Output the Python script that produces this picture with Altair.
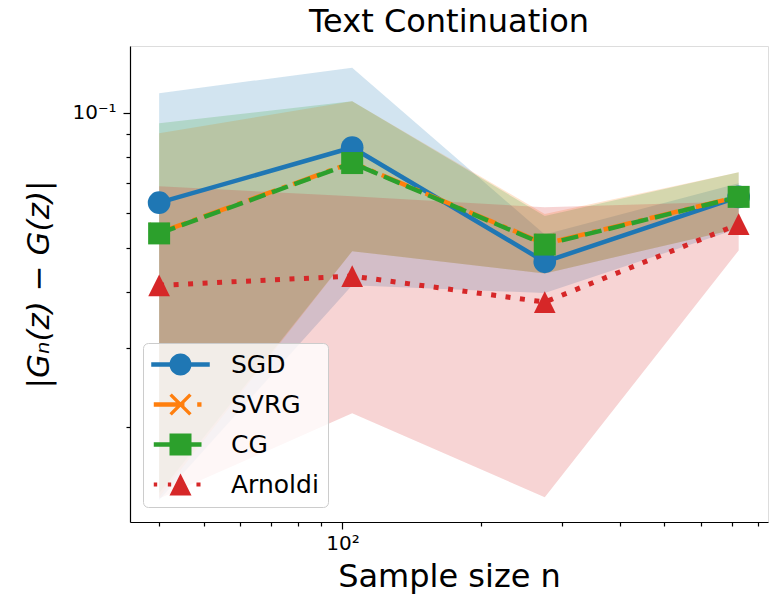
import altair as alt
import pandas as pd

# Sample sizes (log-spaced) and the four estimators
sizes = [40, 105, 275, 725]
methods = ["SGD", "SVRG", "CG", "Arnoldi"]
colors = ["#1f77b4", "#ff7f0e", "#2ca02c", "#d62728"]

# Mean error and shaded band (lower / upper) per method
sgd_mean = [0.0632, 0.0838, 0.0467, 0.0651]
sgd_lo = [0.0138, 0.0414, 0.0398, 0.0554]
sgd_hi = [0.1107, 0.1261, 0.0537, 0.0698]

svrg_mean = [0.0542, 0.0776, 0.0512, 0.0652]
svrg_lo = [0.0140, 0.0493, 0.0440, 0.0554]
svrg_hi = [0.0901, 0.1062, 0.0596, 0.0738]

cg_mean = [0.0540, 0.0774, 0.0510, 0.0651]
cg_lo = [0.0143, 0.0493, 0.0440, 0.0554]
cg_hi = [0.0949, 0.1062, 0.0590, 0.0738]

arnoldi_mean = [0.0414, 0.0434, 0.0380, 0.0566]
arnoldi_lo = [0.0139, 0.0215, 0.0140, 0.0495]
arnoldi_hi = [0.0687, 0.0653, 0.0617, 0.0636]

series = {
    "SGD": (sgd_mean, sgd_lo, sgd_hi),
    "SVRG": (svrg_mean, svrg_lo, svrg_hi),
    "CG": (cg_mean, cg_lo, cg_hi),
    "Arnoldi": (arnoldi_mean, arnoldi_lo, arnoldi_hi),
}

rows = []
for m in methods:
    mean, lo, hi = series[m]
    for n, a, b, c in zip(sizes, mean, lo, hi):
        rows.append({"method": m, "n": n, "mean": a, "lo": b, "hi": c})
df = pd.DataFrame(rows)

FONT = "DejaVu Sans"

x_ticks = [40, 50, 60, 70, 80, 90, 100, 200, 300, 400, 500, 600, 700, 800]
y_ticks = [0.02, 0.03, 0.04, 0.05, 0.06, 0.07, 0.08, 0.09, 0.1]

x_axis = alt.Axis(
    values=x_ticks,
    labelExpr="datum.value == 100 ? '10²' : ''",
    tickSize={"condition": {"test": "datum.value == 100", "value": 7}, "value": 4},
    labelOverlap=False, labelFlush=False, grid=False,
    labelFont=FONT, labelFontSize=20, labelColor="black", labelPadding=4,
    titleFont=FONT, titleFontSize=32, titleFontWeight="normal", titleColor="black",
    titlePadding=8,
    domainColor="black", domainWidth=1.2, tickColor="black", tickWidth=1.2,
)
y_axis = alt.Axis(
    values=y_ticks,
    labelExpr="datum.value == 0.1 ? '10⁻¹' : ''",
    tickSize={"condition": {"test": "datum.value == 0.1", "value": 7}, "value": 4},
    labelOverlap=False, labelFlush=False, grid=False,
    labelFont=FONT, labelFontSize=20, labelColor="black", labelPadding=7,
    titleFont=FONT, titleFontSize=31, titleFontWeight="normal", titleColor="black",
    titleFontStyle="italic", titleX=-91, titleY=238, titleBaseline="middle",
    titleAlign="center", titleAngle=270,
    domainColor="black", domainWidth=1.2, tickColor="black", tickWidth=1.2,
)

x_scale = alt.Scale(type="log", domain=[34.58, 839.5], nice=False)
y_scale = alt.Scale(type="log", domain=[0.01233, 0.1409], nice=False)
color_scale = alt.Scale(domain=methods, range=colors)

X = alt.X("n:Q", scale=x_scale, axis=x_axis, title="Sample size n")
Y_TITLE = "|Gₙ(z) − G(z)|"


def y_enc(field):
    return alt.Y(field, type="quantitative", scale=y_scale, axis=y_axis, title=Y_TITLE)


base = alt.Chart(df)
method_color = dict(zip(methods, colors))

# shaded bands, drawn in method order
bands = [
    base.transform_filter(alt.datum.method == m)
    .mark_area(opacity=0.2, clip=True, color=method_color[m])
    .encode(x=X, y=y_enc("lo"), y2="hi:Q")
    for m in methods
]

line_styles = {
    "SGD": dict(strokeWidth=4.5),
    "SVRG": dict(strokeWidth=4.5, strokeDash=[29, 7, 4.5, 7]),
    "CG": dict(strokeWidth=4.5, strokeDash=[17, 7]),
    "Arnoldi": dict(strokeWidth=5, strokeDash=[5, 9.5]),
}
marker_shapes = {
    "SGD": dict(shape="circle", size=515, filled=True, strokeWidth=0),
    "SVRG": dict(shape="M-1,-1L1,1M-1,1L1,-1", size=380, filled=False, strokeWidth=2.2),
    "CG": dict(shape="square", size=484, filled=True, strokeWidth=0),
    "Arnoldi": dict(shape="M0,-1L1,1L-1,1Z", size=470, filled=True, strokeWidth=0),
}

lines = []
points = []
for m in methods:
    sub = base.transform_filter(alt.datum.method == m)
    lines.append(
        sub.mark_line(strokeCap="butt", color=method_color[m], **line_styles[m]).encode(
            x=X, y=y_enc("mean")
        )
    )
    points.append(
        sub.mark_point(opacity=1, color=method_color[m], **marker_shapes[m]).encode(
            x=X, y=y_enc("mean")
        )
    )


# Legend glyphs: line segments plus marker, written as filled SVG paths in
# symbol units (1 unit = half the marker width).
def rect(x0, x1, t):
    return f"M{x0:.3f},{-t:.3f}L{x1:.3f},{-t:.3f}L{x1:.3f},{t:.3f}L{x0:.3f},{t:.3f}Z"


T = 0.21
circle = "M1,0A1,1 0 1,1 -1,0A1,1 0 1,1 1,0Z"
a, w = 0.9, 0.11
x_stroke1 = f"M{-a + w},{-a - w}L{a + w},{a - w}L{a - w},{a + w}L{-a - w},{-a + w}Z"
x_stroke2 = f"M{a - w},{-a - w}L{a + w},{-a + w}L{-a + w},{a + w}L{-a - w},{a - w}Z"
legend_paths = [
    rect(-2.66, -0.95, T) + rect(0.95, 2.66, T) + circle,
    rect(-2.43, 0.36, T) + rect(1.52, 1.91, T) + x_stroke1 + x_stroke2,
    rect(-2.43, -0.9, T) + rect(0.9, 1.91, T) + "M-1,-1L1,-1L1,1L-1,1Z",
    rect(-2.43, -2.12, 0.19) + rect(-1.15, -0.85, 0.19) + rect(1.45, 1.82, 0.19)
    + "M0,-1L1,1L-1,1Z",
]

legend = alt.Legend(
    orient="none", legendX=13, legendY=297, title=None,
    labelFont=FONT, labelFontSize=25, labelColor="black", labelLimit=300,
    symbolSize=484, symbolStrokeWidth=0, symbolOpacity=1,
    symbolOffset=16, labelOffset=38, rowPadding=14,
    padding=9, fillColor="rgba(255,255,255,0.8)", strokeColor="#cccccc",
    cornerRadius=5,
)

# invisible points that carry the legend
key = base.transform_filter(alt.datum.n == sizes[0]).mark_point(
    filled=True, opacity=0, size=484
).encode(
    x=X,
    y=y_enc("mean"),
    color=alt.Color("method:N", scale=color_scale, legend=legend),
    shape=alt.Shape("method:N", scale=alt.Scale(domain=methods, range=legend_paths), legend=legend),
)

chart = alt.layer(*bands, *lines, *points, key).properties(
    width=638,
    height=476,
    title=alt.TitleParams(
        "Text Continuation", font=FONT, fontSize=32, fontWeight="normal",
        color="black", anchor="middle", offset=7,
    ),
    autosize=alt.AutoSizeParams(type="none"),
    padding={"left": 130, "top": 46, "right": 5, "bottom": 74},
).configure_view(stroke="black", strokeWidth=1.2).configure(background="white")

chart.save("out.html", embed_options={"renderer": "svg", "actions": False})
